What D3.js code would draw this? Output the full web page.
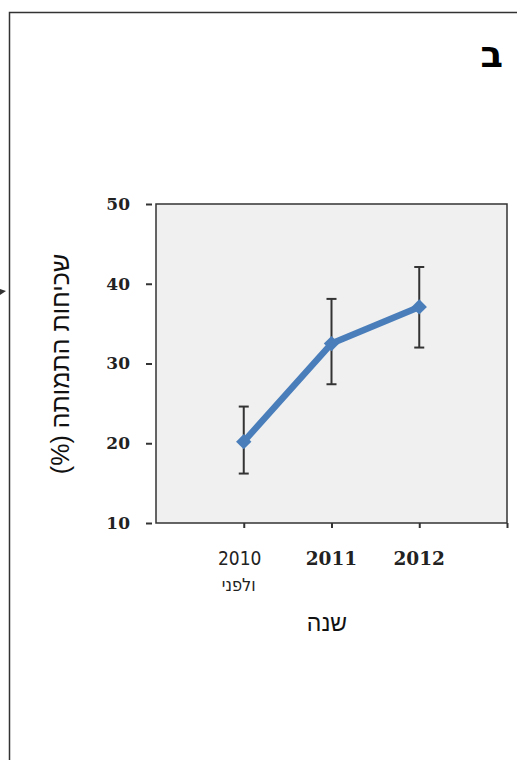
<!DOCTYPE html>
<html lang="he">
<head>
<meta charset="utf-8">
<script src="https://cdn.jsdelivr.net/npm/d3@7"></script>
<style>
  html, body { margin: 0; padding: 0; background: #fff; }
  svg { display: block; }
</style>
</head>
<body>
<svg id="chart"></svg>
<script>
// data
const years = ['2010', '2011', '2012'];
const yearNotes = ['ולפני', '', ''];
const mortality = [20.2, 32.5, 37.1];
const errLow = [16.2, 27.4, 32.0];
const errHigh = [24.6, 38.1, 42.1];
const yTicks = [10, 20, 30, 40, 50];

const panelLetter = 'ב';
const yTitle = 'שכיחות התמותה (%)';
const xTitle = 'שנה';

// sizing
const width = 517;
const height = 760;
const svg = d3.select('#chart').attr('width', width).attr('height', height);

const plot = { left: 156, right: 507, top: 204, bottom: 523 };

const x = d3.scaleLinear()
  .domain([0, years.length + 1])
  .range([plot.left, plot.right]);

const y = d3.scaleLinear()
  .domain([10, 50])
  .range([plot.bottom, plot.top]);

const points = years.map((yr, i) => ({
  year: yr, note: yearNotes[i], value: mortality[i], lo: errLow[i], hi: errHigh[i], pos: i + 1
}));

// outer frame
svg.append('path')
  .attr('d', `M9.5,${height + 2}V12.5H${width + 2}`)
  .attr('fill', 'none')
  .attr('stroke', '#333')
  .attr('stroke-width', 1.5);

// small fragment at the left edge
svg.append('path')
  .attr('d', 'M0,289L6,291L0,295Z')
  .attr('fill', '#333');

svg.append('text')
  .attr('x', 503)
  .attr('y', 67)
  .attr('text-anchor', 'end')
  .attr('font-family', 'DejaVu Sans, sans-serif')
  .attr('font-weight', 'bold')
  .attr('font-size', 37)
  .text(panelLetter);

// plot background
svg.append('rect')
  .attr('x', plot.left)
  .attr('y', plot.top)
  .attr('width', plot.right - plot.left)
  .attr('height', plot.bottom - plot.top)
  .attr('fill', '#f0f0f0')
  .attr('stroke', '#333')
  .attr('stroke-width', 1.5);

// y axis
const yAxis = g => g
  .attr('transform', `translate(${plot.left - 4},0)`)
  .call(d3.axisLeft(y).tickValues(yTicks).tickSize(6).tickPadding(16))
  .call(g => g.select('.domain').remove())
  .call(g => g.selectAll('line').attr('stroke', '#333').attr('stroke-width', 2))
  .call(g => g.selectAll('text')
    .attr('font-family', 'DejaVu Serif, serif')
    .attr('font-weight', 'bold')
    .attr('font-size', 17)
    .attr('fill', '#222'));
svg.append('g').call(yAxis);

// x axis ticks
const xAxis = g => g
  .attr('transform', `translate(0,${plot.bottom})`)
  .call(d3.axisBottom(x).tickValues([1, 2, 3, 4]).tickSize(5).tickFormat(''))
  .call(g => g.select('.domain').remove())
  .call(g => g.selectAll('line').attr('stroke', '#333').attr('stroke-width', 2));
svg.append('g').call(xAxis);

// x labels
const xl = svg.append('g');
points.forEach((d, i) => {
  const t = xl.append('text')
    .attr('x', x(d.pos))
    .attr('y', 565)
    .attr('text-anchor', 'middle')
    .attr('fill', '#222')
    .text(d.year);
  if (i === 0) {
    t.attr('font-family', 'DejaVu Sans Condensed, DejaVu Sans, sans-serif')
      .attr('font-size', 19)
      .attr('x', x(d.pos) - 4);
    xl.append('text')
      .attr('x', x(d.pos) - 5)
      .attr('y', 591)
      .attr('text-anchor', 'middle')
      .attr('direction', 'rtl')
      .attr('font-family', 'DejaVu Sans Condensed, DejaVu Sans, sans-serif')
      .attr('font-size', 18)
      .attr('fill', '#222')
      .text(d.note);
  } else {
    t.attr('font-family', 'DejaVu Serif, serif')
      .attr('font-weight', 'bold')
      .attr('font-size', 18.5);
  }
});

// axis titles
svg.append('text')
  .attr('transform', `translate(69,364) rotate(-90)`)
  .attr('text-anchor', 'middle')
  .attr('direction', 'rtl')
  .attr('font-family', 'Liberation Sans, Arial, sans-serif')
  .attr('font-size', 25)
  .attr('fill', '#111')
  .text(yTitle);

svg.append('text')
  .attr('x', 327)
  .attr('y', 631)
  .attr('text-anchor', 'middle')
  .attr('direction', 'rtl')
  .attr('font-family', 'Liberation Sans, Arial, sans-serif')
  .attr('font-size', 23)
  .attr('fill', '#111')
  .text(xTitle);

// error bars
const eb = svg.append('g').attr('stroke', '#333').attr('stroke-width', 2);
eb.selectAll('line.v')
  .data(points)
  .enter()
  .append('line')
  .attr('x1', d => x(d.pos)).attr('x2', d => x(d.pos))
  .attr('y1', d => y(d.lo)).attr('y2', d => y(d.hi));
eb.selectAll('line.cap')
  .data(points.flatMap(d => [{ pos: d.pos, v: d.lo }, { pos: d.pos, v: d.hi }]))
  .enter()
  .append('line')
  .attr('x1', d => x(d.pos) - 5).attr('x2', d => x(d.pos) + 5)
  .attr('y1', d => y(d.v)).attr('y2', d => y(d.v));

// line
const blue = '#4a7ebb';
svg.append('path')
  .datum(points)
  .attr('fill', 'none')
  .attr('stroke', blue)
  .attr('stroke-width', 6.5)
  .attr('stroke-linejoin', 'round')
  .attr('d', d3.line().x(d => x(d.pos)).y(d => y(d.value)));

// markers
svg.append('g')
  .selectAll('path')
  .data(points)
  .enter()
  .append('path')
  .attr('transform', d => `translate(${x(d.pos)},${y(d.value)})`)
  .attr('d', d3.symbol().type(d3.symbolDiamond2).size(150))
  .attr('fill', blue);
</script>
</body>
</html>
